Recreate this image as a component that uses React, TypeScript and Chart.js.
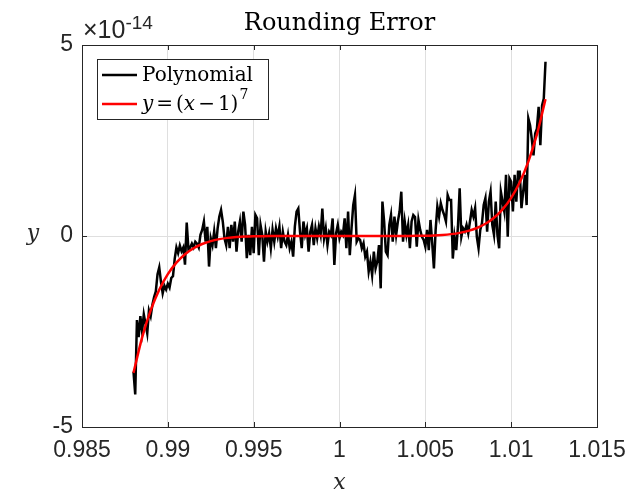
import React, { useEffect, useRef } from "react";
import { Chart, registerables } from "chart.js";

Chart.register(...registerables);

// ---- data (y values in units of 1e-14) ----
const polyXStart = 0.988;
const polyXStep = 0.0001;
const polyValues = [
  -3.55, -4.15, -2.2, -2.65, -2.1, -2.5, -2.05, -2.3, -2.55, -1.95,
  -2.1, -1.8, -1.6, -1.45, -1.0, -0.82, -1.2, -1.5, -1.3, -1.4,
  -1.25, -1.35, -1.1, -1.05, -0.6, -0.3, -0.45, -0.25, -0.4, -0.3,
  -0.75, 0.35, -0.35, -0.3, -0.2, -0.3, -0.15, -0.2, -0.3, 0.03,
  0.16, 0.38, -0.15, 0.24, -0.8, -0.06, -0.24, 0.12, -0.32, 0.2,
  0.51, 0.68, 0.38, -0.06, -0.24, 0.24, -0.32, 0.29, -0.15, 0.38,
  -0.41, 0.12, 0.38, -0.15, 0.64, 0.29, -0.58, 0.03, -0.5, 0.24,
  -0.45, 0.55, 0.46, -0.5, 0.29, 0.03, -0.67, 0.12, -0.15, 0.07,
  -0.32, 0.16, -0.15, 0.2, -0.02, 0.25, -0.32, 0.11, -0.15, -0.24,
  0.03, -0.32, -0.15, -0.54, 0.25, 0.64, 0.72, 0.11, -0.32, 0.38,
  0.03, 0.2, -0.41, 0.11, 0.29, -0.24, 0.2, -0.06, 0.25, 0.03,
  0.72, -0.06, 0.2, -0.24, 0.11, 0.03, 0.46, -0.76, 0.07, 0.29,
  -0.06,
  0.11, 0.03, 0.46, -0.32, 0.64, -0.5, 0.2, 0.81, 1.07, -0.15,
  -0.06, -0.1, -0.32, -0.19, -0.54, -0.41, -0.93, -0.67, -1.02, -0.41,
  -0.85, -0.67, -0.24, -1.37, 0.9, 0.38, -0.41, -0.5, 0.29, 0.55,
  -0.15, 0.51, 0.03, 0.38, 0.64, 1.16, -0.15, 0.38, 0.03, 0.29,
  -0.32, 0.38, 0.55,
  0.5, -0.28, 0.42, 0.16, -0.02, -0.1, -0.28, 0.16, -0.37, 0.42,
  -0.19, -0.85, 0.16, 0.77, 0.51, 0.86, 0.68, 0.55, 0.38, 1.07,
  0.94, 0.94, -0.59, -0.02, -0.37, 0.25, 1.25, -0.02, 0.2, 0.12,
  0.29, 0.07, 0.38, 0.68, 0.51, 0.73, -0.02, -0.32, 0.16, 0.34,
  0.81,
  0.99, 0.11, 0.9, 1.16, 0.29, 0.03, 0.9, 0.03, -0.32, 1.16,
  0.9, 0.64, 1.6, -0.02, 1.51, 1.42, 0.64, 1.6, 0.9, 1.68,
  1.68, 0.73, 1.16, 1.6, 0.81, 3.08, 2.9, 2.55, 2.11, 2.68,
  2.81, 3.38, 2.38, 3.42, 3.6, 4.56,
];

const curveXStart = 0.988;
const curveXStep = 0.0005;
const curveValues = [
  -3.583, -2.66, -1.949, -1.407, -1.0, -0.698, -0.478, -0.321, -0.21, -0.133,
  -0.082, -0.049, -0.028, -0.015, -0.008, -0.004, -0.002, -0.001, 0,
  0, 0, 0, 0, 0, 0, 0, 0, 0, 0, 0,
  0, 0.001, 0.002, 0.004, 0.008, 0.015, 0.028, 0.049, 0.082, 0.133,
  0.21, 0.321, 0.478, 0.698, 1.0, 1.407, 1.949, 2.66, 3.583,
];

const xTicks = [0.985, 0.99, 0.995, 1, 1.005, 1.01, 1.015];
const yTicks = [-5, 0, 5];
const titleText = "Rounding Error";
const exponentText = "-14";
const legendLabel1 = "Polynomial";

const AXIS_COLOR = "#262626";
const GRID_COLOR = "#dfdfdf";
const SANS = "'Liberation Sans', Arial, sans-serif";
const SERIF = "'DejaVu Serif', serif";

const decorPlugin = {
  id: "decor",
  afterDatasetsDraw(chart: any) {
    const { ctx, chartArea, scales } = chart;
    const { left, right, top, bottom } = chartArea;
    const xs = scales.x;
    const ys = scales.y;
    ctx.save();
    ctx.strokeStyle = AXIS_COLOR;
    ctx.lineWidth = 1;
    ctx.beginPath();
    xTicks.forEach((v) => {
      const px = Math.round(xs.getPixelForValue(v)) + 0.5;
      ctx.moveTo(px, bottom);
      ctx.lineTo(px, bottom - 5);
      ctx.moveTo(px, top);
      ctx.lineTo(px, top + 5);
    });
    yTicks.forEach((v) => {
      const py = Math.round(ys.getPixelForValue(v)) + 0.5;
      ctx.moveTo(left, py);
      ctx.lineTo(left + 5, py);
      ctx.moveTo(right, py);
      ctx.lineTo(right - 5, py);
    });
    ctx.stroke();
    ctx.strokeRect(Math.round(left) + 0.5, Math.round(top) + 0.5, Math.round(right - left), Math.round(bottom - top));

    // legend
    const lx = 97.5, ly = 59.5, lw = 171, lh = 60;
    ctx.fillStyle = "#ffffff";
    ctx.fillRect(lx, ly, lw, lh);
    ctx.strokeStyle = AXIS_COLOR;
    ctx.lineWidth = 1;
    ctx.strokeRect(lx, ly, lw, lh);

    ctx.lineWidth = 2.5;
    ctx.strokeStyle = "#000000";
    ctx.beginPath();
    ctx.moveTo(102, 75);
    ctx.lineTo(137, 75);
    ctx.stroke();
    ctx.strokeStyle = "#ff0000";
    ctx.beginPath();
    ctx.moveTo(102, 104);
    ctx.lineTo(137, 104);
    ctx.stroke();

    ctx.fillStyle = "#000000";
    ctx.textBaseline = "alphabetic";
    ctx.textAlign = "left";
    ctx.font = `20px ${SERIF}`;
    ctx.fillText(legendLabel1, 142, 81);

    const parts: [string, string, number][] = [
      ["y", "italic", 3],
      ["=", "normal", 3],
      ["(", "normal", 0],
      ["x", "italic", 3],
      ["\u2212", "normal", 3],
      ["1)", "normal", 0],
    ];
    let cx = 142;
    parts.forEach(([t, st, gap]) => {
      ctx.font = `${st} 20px ${SERIF}`;
      ctx.fillText(t, cx, 110);
      cx += ctx.measureText(t).width + gap;
    });
    ctx.font = `14px ${SERIF}`;
    ctx.fillText("7", cx + 1, 99);
    ctx.restore();
  },
  afterDraw(chart: any) {
    const { ctx, chartArea } = chart;
    const { left, right } = chartArea;
    ctx.save();
    ctx.fillStyle = "#000000";
    ctx.textAlign = "center";
    ctx.textBaseline = "alphabetic";
    ctx.font = `24px ${SERIF}`;
    ctx.fillText(titleText, (left + right) / 2, 30);

    // exponent label
    ctx.fillStyle = AXIS_COLOR;
    ctx.textAlign = "left";
    ctx.font = `25px ${SANS}`;
    ctx.fillText("\u00d710", 83, 38);
    const w = ctx.measureText("\u00d710").width;
    ctx.font = `19px ${SANS}`;
    ctx.fillText(exponentText, 83 + w, 29);

    // axis labels
    ctx.fillStyle = AXIS_COLOR;
    ctx.textAlign = "center";
    ctx.textBaseline = "middle";
    ctx.font = `italic 22px ${SERIF}`;
    ctx.fillText("x", (left + right) / 2, 483);
    ctx.fillText("y", 33, 234);
    ctx.restore();
  },
};

export default function App() {
  const ref = useRef<HTMLCanvasElement | null>(null);
  useEffect(() => {
    if (!ref.current) return;
    const polyPoints = polyValues.map((v, i) => ({
      x: +(polyXStart + i * polyXStep).toFixed(4),
      y: v,
    }));
    const curvePoints = curveValues.map((v, i) => ({
      x: +(curveXStart + i * curveXStep).toFixed(4),
      y: v,
    }));
    const chart = new Chart(ref.current, {
      type: "line",
      data: {
        datasets: [
          {
            label: "y = (x-1)^7",
            data: curvePoints,
            borderColor: "#ff0000",
            borderWidth: 2.5,
            pointRadius: 0,
            cubicInterpolationMode: "monotone",
            fill: false,
          },
          {
            label: legendLabel1,
            data: polyPoints,
            borderColor: "#000000",
            borderWidth: 2.5,
            pointRadius: 0,
            tension: 0,
            fill: false,
          },
        ],
      },
      options: {
        animation: false,
        responsive: false,
        devicePixelRatio: 1,
        layout: { padding: { top: 45, right: 39, left: 0, bottom: 0 } },
        plugins: {
          legend: { display: false },
          title: { display: false },
          tooltip: { enabled: false },
        },
        scales: {
          x: {
            type: "linear",
            min: 0.985,
            max: 1.015,
            afterBuildTicks: (s: any) => {
              s.ticks = xTicks.map((v) => ({ value: v }));
            },
            afterFit: (s: any) => {
              s.height = 68;
            },
            ticks: {
              autoSkip: false,
              maxRotation: 0,
              padding: 10,
              color: AXIS_COLOR,
              font: { family: SANS, size: 23 },
              callback: (v: any) => String(Number(Number(v).toFixed(3))),
            },
            grid: { color: GRID_COLOR, drawTicks: false },
            border: { display: false },
          },
          y: {
            type: "linear",
            min: -5,
            max: 5,
            afterBuildTicks: (s: any) => {
              s.ticks = yTicks.map((v) => ({ value: v }));
            },
            afterFit: (s: any) => {
              s.width = 82;
            },
            ticks: {
              padding: 9,
              color: AXIS_COLOR,
              font: { family: SANS, size: 23 },
              callback: (v: any) => String(v),
            },
            grid: { color: GRID_COLOR, drawTicks: false },
            border: { display: false },
          },
        },
      },
      plugins: [decorPlugin],
    } as any);
    return () => chart.destroy();
  }, []);
  return (
    <div style={{ position: "absolute", left: 0, top: 0, width: 636, height: 495, background: "#fff" }}>
      <canvas ref={ref} width={636} height={495} />
    </div>
  );
}
